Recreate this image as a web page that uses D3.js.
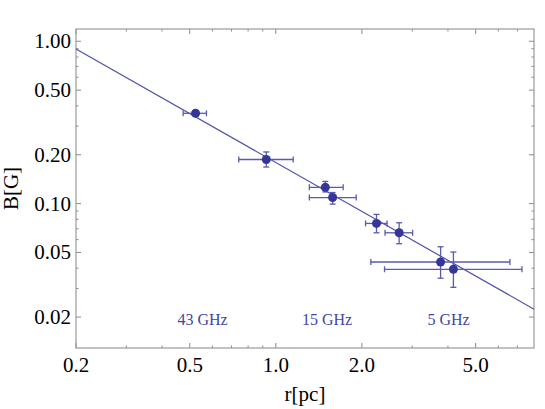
<!DOCTYPE html>
<html>
<head>
  <meta charset="utf-8">
  <script src="https://cdn.jsdelivr.net/npm/d3@7"></script>
  <style type="text/css">
  html, body {
    margin: 0;
    background-color: #fff;
  }
  svg text {
    font-family: 'Liberation Serif', 'Times New Roman', Times, 'DejaVu Serif', serif;
  }
  .frame {
    fill: none;
    stroke: #9a9a9a;
    stroke-width: 1.2px;
  }
  .tick {
    stroke: #8a8a8a;
    stroke-width: 1px;
  }
  .fit {
    fill: none;
    stroke: #5050a8;
    stroke-width: 1.2px;
  }
  .err {
    stroke: #5a5ab0;
    stroke-width: 1.3px;
  }
  .pt {
    fill: #36369a;
  }
  .band {
    fill: #4545a0;
    font-size: 16px;
    text-anchor: middle;
  }
  </style>
</head>
<body>
  <div id="chart"></div>
<script>
// measured points: r [pc], B [G] with error ranges
var rVals  = [0.524, 0.926, 1.49, 1.58, 2.25, 2.70, 3.77, 4.18];
var rLow   = [0.474, 0.742, 1.31, 1.31, 2.06, 2.41, 2.15, 2.40];
var rHigh  = [0.572, 1.15,  1.72, 1.91, 2.45, 3.01, 6.59, 7.26];
var bVals  = [0.360, 0.187, 0.126, 0.109, 0.0755, 0.0661, 0.0437, 0.0394];
var bLow   = [0.350, 0.168, 0.118, 0.0993, 0.0661, 0.0566, 0.0347, 0.0305];
var bHigh  = [0.371, 0.208, 0.137, 0.117, 0.0858, 0.0762, 0.0542, 0.0503];

// fitted power law B = b0 * r^k
var fitB0 = 0.179, fitK = -1.0;

var xMajor = [0.2, 0.5, 1, 2, 5];
var xMajorLabels = ["0.2", "0.5", "1.0", "2.0", "5.0"];
var xMinor = [0.3, 0.4, 0.6, 0.7, 0.8, 0.9, 3, 4, 6, 7];
var yMajor = [0.02, 0.05, 0.1, 0.2, 0.5, 1];
var yMajorLabels = ["0.02", "0.05", "0.10", "0.20", "0.50", "1.00"];
var yMinor = [0.03, 0.04, 0.06, 0.07, 0.08, 0.09, 0.3, 0.4, 0.6, 0.7, 0.8, 0.9];

var bands = ["43 GHz", "15 GHz", "5 GHz"];
var bandR = [0.554, 1.51, 4.02];

var width = 545, height = 409;
var pLeft = 76, pRight = 534, pTop = 29, pBottom = 348;
var serif = "'Liberation Serif', 'Times New Roman', Times, serif";

var svg = d3.select("#chart").append("svg")
            .attr("width", width)
            .attr("height", height)
            .attr("font-family", serif);

var x = d3.scaleLog().domain([0.2, 8]).range([pLeft, pRight]);
var y = d3.scaleLog().domain([0.0129, 1.19]).range([pBottom, pTop]);

// ticks on all four sides, pointing inward
var tk = svg.append("g");
function xTicks(vals, len) {
  vals.forEach(function(v) {
    tk.append("line").attr("class", "tick")
      .attr("x1", x(v)).attr("x2", x(v))
      .attr("y1", pBottom).attr("y2", pBottom - len);
    tk.append("line").attr("class", "tick")
      .attr("x1", x(v)).attr("x2", x(v))
      .attr("y1", pTop).attr("y2", pTop + len);
  });
}
function yTicks(vals, len) {
  vals.forEach(function(v) {
    tk.append("line").attr("class", "tick")
      .attr("x1", pLeft).attr("x2", pLeft + len)
      .attr("y1", y(v)).attr("y2", y(v));
    tk.append("line").attr("class", "tick")
      .attr("x1", pRight).attr("x2", pRight - len)
      .attr("y1", y(v)).attr("y2", y(v));
  });
}
xTicks(xMajor, 5);
xTicks(xMinor, 2.5);
yTicks(yMajor, 5);
yTicks(yMinor, 2.5);

svg.append("rect").attr("class", "frame")
   .attr("x", pLeft).attr("y", pTop)
   .attr("width", pRight - pLeft).attr("height", pBottom - pTop);

// tick labels
svg.append("g").selectAll("text")
   .data(xMajor)
   .enter().append("text")
   .attr("x", function(d) { return x(d); })
   .attr("y", 372)
   .attr("text-anchor", "middle")
   .style("font-family", serif)
   .style("font-size", "21px")
   .text(function(d, i) { return xMajorLabels[i]; });

svg.append("g").selectAll("text")
   .data(yMajor)
   .enter().append("text")
   .attr("x", 71)
   .attr("y", function(d) { return y(d) + 7; })
   .attr("text-anchor", "end")
   .style("font-family", serif)
   .style("font-size", "21px")
   .text(function(d, i) { return yMajorLabels[i]; });

svg.append("text")
   .attr("x", (pLeft + pRight) / 2).attr("y", 401)
   .attr("text-anchor", "middle")
   .style("font-family", serif)
   .style("font-size", "21px")
   .text("r[pc]");

svg.append("text")
   .attr("transform", "translate(18," + ((pTop + pBottom) / 2) + ") rotate(-90)")
   .attr("text-anchor", "middle")
   .style("font-family", serif)
   .style("font-size", "21px")
   .text("B[G]");

// fit line
var plot = svg.append("g");
var fitR = [0.2, 8];
plot.append("path").attr("class", "fit")
    .attr("d", d3.line()
      .x(function(d) { return x(d); })
      .y(function(d) { return y(fitB0 * Math.pow(d, fitK)); })(fitR));

// error bars
var cap = 3;
rVals.forEach(function(r, i) {
  var cx = x(r), cy = y(bVals[i]);
  var g = plot.append("g");
  g.append("line").attr("class", "err")
   .attr("x1", x(rLow[i])).attr("x2", x(rHigh[i]))
   .attr("y1", cy).attr("y2", cy);
  [rLow[i], rHigh[i]].forEach(function(v) {
    g.append("line").attr("class", "err")
     .attr("x1", x(v)).attr("x2", x(v))
     .attr("y1", cy - cap).attr("y2", cy + cap);
  });
  g.append("line").attr("class", "err")
   .attr("x1", cx).attr("x2", cx)
   .attr("y1", y(bLow[i])).attr("y2", y(bHigh[i]));
  [bLow[i], bHigh[i]].forEach(function(v) {
    g.append("line").attr("class", "err")
     .attr("x1", cx - cap).attr("x2", cx + cap)
     .attr("y1", y(v)).attr("y2", y(v));
  });
});

plot.selectAll("circle")
    .data(rVals)
    .enter().append("circle")
    .attr("class", "pt")
    .attr("cx", function(d) { return x(d); })
    .attr("cy", function(d, i) { return y(bVals[i]); })
    .attr("r", 4.5);

svg.append("g").selectAll("text")
   .data(bands)
   .enter().append("text")
   .attr("class", "band")
   .attr("x", function(d, i) { return x(bandR[i]); })
   .attr("y", 325)
   .style("font-family", serif)
   .text(function(d) { return d; });
</script>
</body>
</html>
